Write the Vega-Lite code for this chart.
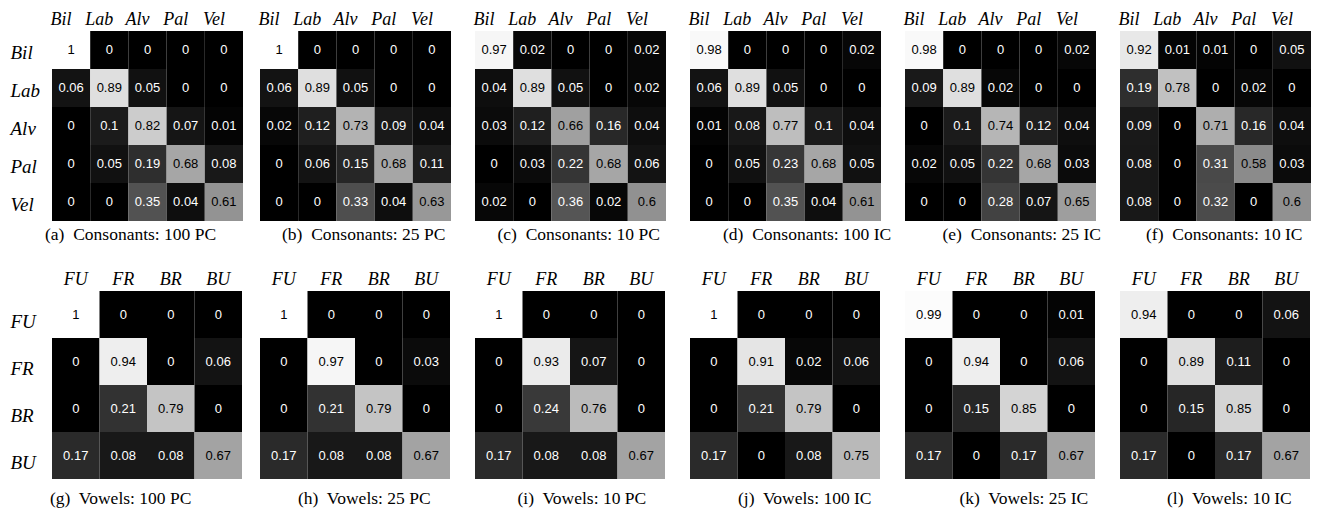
{
  "$schema": "https://vega.github.io/schema/vega-lite/v6.json",
  "background": "white",
  "padding": {"left": 10, "top": 10, "right": 0, "bottom": 0},
  "config": {
    "view": {"stroke": null},
    "axis": {"domain": false, "ticks": false, "grid": false, "labelFont": "Liberation Serif", "labelFontStyle": "italic", "labelColor": "#000000", "labelAngle": 0, "labelOverlap": false},
    "axisX": {"labelFont": "Liberation Serif", "labelFontStyle": "italic", "labelFontSize": 18, "labelPadding": 3},
    "axisY": {"labelFont": "Liberation Serif", "labelFontStyle": "italic", "labelFontSize": 19, "labelAlign": "left", "labelPadding": 42},
    "title": {"orient": "bottom", "anchor": "start", "frame": "group", "font": "Liberation Serif", "fontSize": 17.5, "fontWeight": "normal", "color": "#000000", "offset": 5}
  },
  "datasets": {
    "cons": [
      {"panel":"a","actual":"Bil","pred":"Bil","value":1},{"panel":"a","actual":"Bil","pred":"Lab","value":0},{"panel":"a","actual":"Bil","pred":"Alv","value":0},{"panel":"a","actual":"Bil","pred":"Pal","value":0},{"panel":"a","actual":"Bil","pred":"Vel","value":0},
      {"panel":"a","actual":"Lab","pred":"Bil","value":0.06},{"panel":"a","actual":"Lab","pred":"Lab","value":0.89},{"panel":"a","actual":"Lab","pred":"Alv","value":0.05},{"panel":"a","actual":"Lab","pred":"Pal","value":0},{"panel":"a","actual":"Lab","pred":"Vel","value":0},
      {"panel":"a","actual":"Alv","pred":"Bil","value":0},{"panel":"a","actual":"Alv","pred":"Lab","value":0.1},{"panel":"a","actual":"Alv","pred":"Alv","value":0.82},{"panel":"a","actual":"Alv","pred":"Pal","value":0.07},{"panel":"a","actual":"Alv","pred":"Vel","value":0.01},
      {"panel":"a","actual":"Pal","pred":"Bil","value":0},{"panel":"a","actual":"Pal","pred":"Lab","value":0.05},{"panel":"a","actual":"Pal","pred":"Alv","value":0.19},{"panel":"a","actual":"Pal","pred":"Pal","value":0.68},{"panel":"a","actual":"Pal","pred":"Vel","value":0.08},
      {"panel":"a","actual":"Vel","pred":"Bil","value":0},{"panel":"a","actual":"Vel","pred":"Lab","value":0},{"panel":"a","actual":"Vel","pred":"Alv","value":0.35},{"panel":"a","actual":"Vel","pred":"Pal","value":0.04},{"panel":"a","actual":"Vel","pred":"Vel","value":0.61},

      {"panel":"b","actual":"Bil","pred":"Bil","value":1},{"panel":"b","actual":"Bil","pred":"Lab","value":0},{"panel":"b","actual":"Bil","pred":"Alv","value":0},{"panel":"b","actual":"Bil","pred":"Pal","value":0},{"panel":"b","actual":"Bil","pred":"Vel","value":0},
      {"panel":"b","actual":"Lab","pred":"Bil","value":0.06},{"panel":"b","actual":"Lab","pred":"Lab","value":0.89},{"panel":"b","actual":"Lab","pred":"Alv","value":0.05},{"panel":"b","actual":"Lab","pred":"Pal","value":0},{"panel":"b","actual":"Lab","pred":"Vel","value":0},
      {"panel":"b","actual":"Alv","pred":"Bil","value":0.02},{"panel":"b","actual":"Alv","pred":"Lab","value":0.12},{"panel":"b","actual":"Alv","pred":"Alv","value":0.73},{"panel":"b","actual":"Alv","pred":"Pal","value":0.09},{"panel":"b","actual":"Alv","pred":"Vel","value":0.04},
      {"panel":"b","actual":"Pal","pred":"Bil","value":0},{"panel":"b","actual":"Pal","pred":"Lab","value":0.06},{"panel":"b","actual":"Pal","pred":"Alv","value":0.15},{"panel":"b","actual":"Pal","pred":"Pal","value":0.68},{"panel":"b","actual":"Pal","pred":"Vel","value":0.11},
      {"panel":"b","actual":"Vel","pred":"Bil","value":0},{"panel":"b","actual":"Vel","pred":"Lab","value":0},{"panel":"b","actual":"Vel","pred":"Alv","value":0.33},{"panel":"b","actual":"Vel","pred":"Pal","value":0.04},{"panel":"b","actual":"Vel","pred":"Vel","value":0.63},

      {"panel":"c","actual":"Bil","pred":"Bil","value":0.97},{"panel":"c","actual":"Bil","pred":"Lab","value":0.02},{"panel":"c","actual":"Bil","pred":"Alv","value":0},{"panel":"c","actual":"Bil","pred":"Pal","value":0},{"panel":"c","actual":"Bil","pred":"Vel","value":0.02},
      {"panel":"c","actual":"Lab","pred":"Bil","value":0.04},{"panel":"c","actual":"Lab","pred":"Lab","value":0.89},{"panel":"c","actual":"Lab","pred":"Alv","value":0.05},{"panel":"c","actual":"Lab","pred":"Pal","value":0},{"panel":"c","actual":"Lab","pred":"Vel","value":0.02},
      {"panel":"c","actual":"Alv","pred":"Bil","value":0.03},{"panel":"c","actual":"Alv","pred":"Lab","value":0.12},{"panel":"c","actual":"Alv","pred":"Alv","value":0.66},{"panel":"c","actual":"Alv","pred":"Pal","value":0.16},{"panel":"c","actual":"Alv","pred":"Vel","value":0.04},
      {"panel":"c","actual":"Pal","pred":"Bil","value":0},{"panel":"c","actual":"Pal","pred":"Lab","value":0.03},{"panel":"c","actual":"Pal","pred":"Alv","value":0.22},{"panel":"c","actual":"Pal","pred":"Pal","value":0.68},{"panel":"c","actual":"Pal","pred":"Vel","value":0.06},
      {"panel":"c","actual":"Vel","pred":"Bil","value":0.02},{"panel":"c","actual":"Vel","pred":"Lab","value":0},{"panel":"c","actual":"Vel","pred":"Alv","value":0.36},{"panel":"c","actual":"Vel","pred":"Pal","value":0.02},{"panel":"c","actual":"Vel","pred":"Vel","value":0.6},

      {"panel":"d","actual":"Bil","pred":"Bil","value":0.98},{"panel":"d","actual":"Bil","pred":"Lab","value":0},{"panel":"d","actual":"Bil","pred":"Alv","value":0},{"panel":"d","actual":"Bil","pred":"Pal","value":0},{"panel":"d","actual":"Bil","pred":"Vel","value":0.02},
      {"panel":"d","actual":"Lab","pred":"Bil","value":0.06},{"panel":"d","actual":"Lab","pred":"Lab","value":0.89},{"panel":"d","actual":"Lab","pred":"Alv","value":0.05},{"panel":"d","actual":"Lab","pred":"Pal","value":0},{"panel":"d","actual":"Lab","pred":"Vel","value":0},
      {"panel":"d","actual":"Alv","pred":"Bil","value":0.01},{"panel":"d","actual":"Alv","pred":"Lab","value":0.08},{"panel":"d","actual":"Alv","pred":"Alv","value":0.77},{"panel":"d","actual":"Alv","pred":"Pal","value":0.1},{"panel":"d","actual":"Alv","pred":"Vel","value":0.04},
      {"panel":"d","actual":"Pal","pred":"Bil","value":0},{"panel":"d","actual":"Pal","pred":"Lab","value":0.05},{"panel":"d","actual":"Pal","pred":"Alv","value":0.23},{"panel":"d","actual":"Pal","pred":"Pal","value":0.68},{"panel":"d","actual":"Pal","pred":"Vel","value":0.05},
      {"panel":"d","actual":"Vel","pred":"Bil","value":0},{"panel":"d","actual":"Vel","pred":"Lab","value":0},{"panel":"d","actual":"Vel","pred":"Alv","value":0.35},{"panel":"d","actual":"Vel","pred":"Pal","value":0.04},{"panel":"d","actual":"Vel","pred":"Vel","value":0.61},

      {"panel":"e","actual":"Bil","pred":"Bil","value":0.98},{"panel":"e","actual":"Bil","pred":"Lab","value":0},{"panel":"e","actual":"Bil","pred":"Alv","value":0},{"panel":"e","actual":"Bil","pred":"Pal","value":0},{"panel":"e","actual":"Bil","pred":"Vel","value":0.02},
      {"panel":"e","actual":"Lab","pred":"Bil","value":0.09},{"panel":"e","actual":"Lab","pred":"Lab","value":0.89},{"panel":"e","actual":"Lab","pred":"Alv","value":0.02},{"panel":"e","actual":"Lab","pred":"Pal","value":0},{"panel":"e","actual":"Lab","pred":"Vel","value":0},
      {"panel":"e","actual":"Alv","pred":"Bil","value":0},{"panel":"e","actual":"Alv","pred":"Lab","value":0.1},{"panel":"e","actual":"Alv","pred":"Alv","value":0.74},{"panel":"e","actual":"Alv","pred":"Pal","value":0.12},{"panel":"e","actual":"Alv","pred":"Vel","value":0.04},
      {"panel":"e","actual":"Pal","pred":"Bil","value":0.02},{"panel":"e","actual":"Pal","pred":"Lab","value":0.05},{"panel":"e","actual":"Pal","pred":"Alv","value":0.22},{"panel":"e","actual":"Pal","pred":"Pal","value":0.68},{"panel":"e","actual":"Pal","pred":"Vel","value":0.03},
      {"panel":"e","actual":"Vel","pred":"Bil","value":0},{"panel":"e","actual":"Vel","pred":"Lab","value":0},{"panel":"e","actual":"Vel","pred":"Alv","value":0.28},{"panel":"e","actual":"Vel","pred":"Pal","value":0.07},{"panel":"e","actual":"Vel","pred":"Vel","value":0.65},

      {"panel":"f","actual":"Bil","pred":"Bil","value":0.92},{"panel":"f","actual":"Bil","pred":"Lab","value":0.01},{"panel":"f","actual":"Bil","pred":"Alv","value":0.01},{"panel":"f","actual":"Bil","pred":"Pal","value":0},{"panel":"f","actual":"Bil","pred":"Vel","value":0.05},
      {"panel":"f","actual":"Lab","pred":"Bil","value":0.19},{"panel":"f","actual":"Lab","pred":"Lab","value":0.78},{"panel":"f","actual":"Lab","pred":"Alv","value":0},{"panel":"f","actual":"Lab","pred":"Pal","value":0.02},{"panel":"f","actual":"Lab","pred":"Vel","value":0},
      {"panel":"f","actual":"Alv","pred":"Bil","value":0.09},{"panel":"f","actual":"Alv","pred":"Lab","value":0},{"panel":"f","actual":"Alv","pred":"Alv","value":0.71},{"panel":"f","actual":"Alv","pred":"Pal","value":0.16},{"panel":"f","actual":"Alv","pred":"Vel","value":0.04},
      {"panel":"f","actual":"Pal","pred":"Bil","value":0.08},{"panel":"f","actual":"Pal","pred":"Lab","value":0},{"panel":"f","actual":"Pal","pred":"Alv","value":0.31},{"panel":"f","actual":"Pal","pred":"Pal","value":0.58},{"panel":"f","actual":"Pal","pred":"Vel","value":0.03},
      {"panel":"f","actual":"Vel","pred":"Bil","value":0.08},{"panel":"f","actual":"Vel","pred":"Lab","value":0},{"panel":"f","actual":"Vel","pred":"Alv","value":0.32},{"panel":"f","actual":"Vel","pred":"Pal","value":0},{"panel":"f","actual":"Vel","pred":"Vel","value":0.6}
    ],
    "vow": [
      {"panel":"g","actual":"FU","pred":"FU","value":1},{"panel":"g","actual":"FU","pred":"FR","value":0},{"panel":"g","actual":"FU","pred":"BR","value":0},{"panel":"g","actual":"FU","pred":"BU","value":0},
      {"panel":"g","actual":"FR","pred":"FU","value":0},{"panel":"g","actual":"FR","pred":"FR","value":0.94},{"panel":"g","actual":"FR","pred":"BR","value":0},{"panel":"g","actual":"FR","pred":"BU","value":0.06},
      {"panel":"g","actual":"BR","pred":"FU","value":0},{"panel":"g","actual":"BR","pred":"FR","value":0.21},{"panel":"g","actual":"BR","pred":"BR","value":0.79},{"panel":"g","actual":"BR","pred":"BU","value":0},
      {"panel":"g","actual":"BU","pred":"FU","value":0.17},{"panel":"g","actual":"BU","pred":"FR","value":0.08},{"panel":"g","actual":"BU","pred":"BR","value":0.08},{"panel":"g","actual":"BU","pred":"BU","value":0.67},

      {"panel":"h","actual":"FU","pred":"FU","value":1},{"panel":"h","actual":"FU","pred":"FR","value":0},{"panel":"h","actual":"FU","pred":"BR","value":0},{"panel":"h","actual":"FU","pred":"BU","value":0},
      {"panel":"h","actual":"FR","pred":"FU","value":0},{"panel":"h","actual":"FR","pred":"FR","value":0.97},{"panel":"h","actual":"FR","pred":"BR","value":0},{"panel":"h","actual":"FR","pred":"BU","value":0.03},
      {"panel":"h","actual":"BR","pred":"FU","value":0},{"panel":"h","actual":"BR","pred":"FR","value":0.21},{"panel":"h","actual":"BR","pred":"BR","value":0.79},{"panel":"h","actual":"BR","pred":"BU","value":0},
      {"panel":"h","actual":"BU","pred":"FU","value":0.17},{"panel":"h","actual":"BU","pred":"FR","value":0.08},{"panel":"h","actual":"BU","pred":"BR","value":0.08},{"panel":"h","actual":"BU","pred":"BU","value":0.67},

      {"panel":"i","actual":"FU","pred":"FU","value":1},{"panel":"i","actual":"FU","pred":"FR","value":0},{"panel":"i","actual":"FU","pred":"BR","value":0},{"panel":"i","actual":"FU","pred":"BU","value":0},
      {"panel":"i","actual":"FR","pred":"FU","value":0},{"panel":"i","actual":"FR","pred":"FR","value":0.93},{"panel":"i","actual":"FR","pred":"BR","value":0.07},{"panel":"i","actual":"FR","pred":"BU","value":0},
      {"panel":"i","actual":"BR","pred":"FU","value":0},{"panel":"i","actual":"BR","pred":"FR","value":0.24},{"panel":"i","actual":"BR","pred":"BR","value":0.76},{"panel":"i","actual":"BR","pred":"BU","value":0},
      {"panel":"i","actual":"BU","pred":"FU","value":0.17},{"panel":"i","actual":"BU","pred":"FR","value":0.08},{"panel":"i","actual":"BU","pred":"BR","value":0.08},{"panel":"i","actual":"BU","pred":"BU","value":0.67},

      {"panel":"j","actual":"FU","pred":"FU","value":1},{"panel":"j","actual":"FU","pred":"FR","value":0},{"panel":"j","actual":"FU","pred":"BR","value":0},{"panel":"j","actual":"FU","pred":"BU","value":0},
      {"panel":"j","actual":"FR","pred":"FU","value":0},{"panel":"j","actual":"FR","pred":"FR","value":0.91},{"panel":"j","actual":"FR","pred":"BR","value":0.02},{"panel":"j","actual":"FR","pred":"BU","value":0.06},
      {"panel":"j","actual":"BR","pred":"FU","value":0},{"panel":"j","actual":"BR","pred":"FR","value":0.21},{"panel":"j","actual":"BR","pred":"BR","value":0.79},{"panel":"j","actual":"BR","pred":"BU","value":0},
      {"panel":"j","actual":"BU","pred":"FU","value":0.17},{"panel":"j","actual":"BU","pred":"FR","value":0},{"panel":"j","actual":"BU","pred":"BR","value":0.08},{"panel":"j","actual":"BU","pred":"BU","value":0.75},

      {"panel":"k","actual":"FU","pred":"FU","value":0.99},{"panel":"k","actual":"FU","pred":"FR","value":0},{"panel":"k","actual":"FU","pred":"BR","value":0},{"panel":"k","actual":"FU","pred":"BU","value":0.01},
      {"panel":"k","actual":"FR","pred":"FU","value":0},{"panel":"k","actual":"FR","pred":"FR","value":0.94},{"panel":"k","actual":"FR","pred":"BR","value":0},{"panel":"k","actual":"FR","pred":"BU","value":0.06},
      {"panel":"k","actual":"BR","pred":"FU","value":0},{"panel":"k","actual":"BR","pred":"FR","value":0.15},{"panel":"k","actual":"BR","pred":"BR","value":0.85},{"panel":"k","actual":"BR","pred":"BU","value":0},
      {"panel":"k","actual":"BU","pred":"FU","value":0.17},{"panel":"k","actual":"BU","pred":"FR","value":0},{"panel":"k","actual":"BU","pred":"BR","value":0.17},{"panel":"k","actual":"BU","pred":"BU","value":0.67},

      {"panel":"l","actual":"FU","pred":"FU","value":0.94},{"panel":"l","actual":"FU","pred":"FR","value":0},{"panel":"l","actual":"FU","pred":"BR","value":0},{"panel":"l","actual":"FU","pred":"BU","value":0.06},
      {"panel":"l","actual":"FR","pred":"FU","value":0},{"panel":"l","actual":"FR","pred":"FR","value":0.89},{"panel":"l","actual":"FR","pred":"BR","value":0.11},{"panel":"l","actual":"FR","pred":"BU","value":0},
      {"panel":"l","actual":"BR","pred":"FU","value":0},{"panel":"l","actual":"BR","pred":"FR","value":0.15},{"panel":"l","actual":"BR","pred":"BR","value":0.85},{"panel":"l","actual":"BR","pred":"BU","value":0},
      {"panel":"l","actual":"BU","pred":"FU","value":0.17},{"panel":"l","actual":"BU","pred":"FR","value":0},{"panel":"l","actual":"BU","pred":"BR","value":0.17},{"panel":"l","actual":"BU","pred":"BU","value":0.67}
    ]
  },
  "columns": 6,
  "align": "none",
  "bounds": "flush",
  "spacing": {"row": 70, "column": 13},
  "concat": [
    {
      "width": 191, "height": 190,
      "data": {"name": "cons"},
      "transform": [{"filter": "datum.panel == 'a'"}],
      "title": {"text": "(a)\u00a0 Consonants: 100 PC", "dx": -7},
      "encoding": {
        "x": {"field": "pred", "type": "nominal", "sort": ["Bil","Lab","Alv","Pal","Vel"], "title": null, "scale": {"range": [0, 191], "paddingInner": 0, "paddingOuter": 0}, "axis": {"orient": "top", "labelOffset": -10, "labelFont": "Liberation Serif", "labelFontStyle": "italic"}},
        "y": {"field": "actual", "type": "nominal", "sort": ["Bil","Lab","Alv","Pal","Vel"], "title": null, "scale": {"paddingInner": 0, "paddingOuter": 0}, "axis": {"labelOffset": 3, "labelFont": "Liberation Serif", "labelFontStyle": "italic"}}
      },
      "layer": [
        {"mark": "rect", "encoding": {"color": {"field": "value", "type": "quantitative", "scale": {"domain": [0, 1], "range": ["#000000", "#ffffff"]}, "legend": null}}},
        {"mark": {"type": "text", "font": "Liberation Sans", "fontSize": 13}, "encoding": {"text": {"field": "value", "type": "nominal"}, "color": {"condition": {"test": "datum.value < 0.5", "value": "#ffffff"}, "value": "#000000"}}}
      ]
    },
    {
      "width": 201.5, "height": 190,
      "data": {"name": "cons"},
      "transform": [{"filter": "datum.panel == 'b'"}],
      "title": {"text": "(b)\u00a0 Consonants: 25 PC", "dx": 22},
      "encoding": {
        "x": {"field": "pred", "type": "nominal", "sort": ["Bil","Lab","Alv","Pal","Vel"], "title": null, "scale": {"range": [0, 191], "paddingInner": 0, "paddingOuter": 0}, "axis": {"orient": "top", "labelOffset": -10, "labelFont": "Liberation Serif", "labelFontStyle": "italic"}},
        "y": {"field": "actual", "type": "nominal", "sort": ["Bil","Lab","Alv","Pal","Vel"], "title": null, "scale": {"paddingInner": 0, "paddingOuter": 0}, "axis": null}
      },
      "layer": [
        {"mark": "rect", "encoding": {"color": {"field": "value", "type": "quantitative", "scale": {"domain": [0, 1], "range": ["#000000", "#ffffff"]}, "legend": null}}},
        {"mark": {"type": "text", "font": "Liberation Sans", "fontSize": 13}, "encoding": {"text": {"field": "value", "type": "nominal"}, "color": {"condition": {"test": "datum.value < 0.5", "value": "#ffffff"}, "value": "#000000"}}}
      ]
    },
    {
      "width": 201.5, "height": 190,
      "data": {"name": "cons"},
      "transform": [{"filter": "datum.panel == 'c'"}],
      "title": {"text": "(c)\u00a0 Consonants: 10 PC", "dx": 22.5},
      "encoding": {
        "x": {"field": "pred", "type": "nominal", "sort": ["Bil","Lab","Alv","Pal","Vel"], "title": null, "scale": {"range": [0, 191], "paddingInner": 0, "paddingOuter": 0}, "axis": {"orient": "top", "labelOffset": -10, "labelFont": "Liberation Serif", "labelFontStyle": "italic"}},
        "y": {"field": "actual", "type": "nominal", "sort": ["Bil","Lab","Alv","Pal","Vel"], "title": null, "scale": {"paddingInner": 0, "paddingOuter": 0}, "axis": null}
      },
      "layer": [
        {"mark": "rect", "encoding": {"color": {"field": "value", "type": "quantitative", "scale": {"domain": [0, 1], "range": ["#000000", "#ffffff"]}, "legend": null}}},
        {"mark": {"type": "text", "font": "Liberation Sans", "fontSize": 13}, "encoding": {"text": {"field": "value", "type": "nominal"}, "color": {"condition": {"test": "datum.value < 0.5", "value": "#ffffff"}, "value": "#000000"}}}
      ]
    },
    {
      "width": 201.5, "height": 190,
      "data": {"name": "cons"},
      "transform": [{"filter": "datum.panel == 'd'"}],
      "title": {"text": "(d)\u00a0 Consonants: 100 IC", "dx": 33},
      "encoding": {
        "x": {"field": "pred", "type": "nominal", "sort": ["Bil","Lab","Alv","Pal","Vel"], "title": null, "scale": {"range": [0, 191], "paddingInner": 0, "paddingOuter": 0}, "axis": {"orient": "top", "labelOffset": -10, "labelFont": "Liberation Serif", "labelFontStyle": "italic"}},
        "y": {"field": "actual", "type": "nominal", "sort": ["Bil","Lab","Alv","Pal","Vel"], "title": null, "scale": {"paddingInner": 0, "paddingOuter": 0}, "axis": null}
      },
      "layer": [
        {"mark": "rect", "encoding": {"color": {"field": "value", "type": "quantitative", "scale": {"domain": [0, 1], "range": ["#000000", "#ffffff"]}, "legend": null}}},
        {"mark": {"type": "text", "font": "Liberation Sans", "fontSize": 13}, "encoding": {"text": {"field": "value", "type": "nominal"}, "color": {"condition": {"test": "datum.value < 0.5", "value": "#ffffff"}, "value": "#000000"}}}
      ]
    },
    {
      "width": 201.5, "height": 190,
      "data": {"name": "cons"},
      "transform": [{"filter": "datum.panel == 'e'"}],
      "title": {"text": "(e)\u00a0 Consonants: 25 IC", "dx": 37.5},
      "encoding": {
        "x": {"field": "pred", "type": "nominal", "sort": ["Bil","Lab","Alv","Pal","Vel"], "title": null, "scale": {"range": [0, 191], "paddingInner": 0, "paddingOuter": 0}, "axis": {"orient": "top", "labelOffset": -10, "labelFont": "Liberation Serif", "labelFontStyle": "italic"}},
        "y": {"field": "actual", "type": "nominal", "sort": ["Bil","Lab","Alv","Pal","Vel"], "title": null, "scale": {"paddingInner": 0, "paddingOuter": 0}, "axis": null}
      },
      "layer": [
        {"mark": "rect", "encoding": {"color": {"field": "value", "type": "quantitative", "scale": {"domain": [0, 1], "range": ["#000000", "#ffffff"]}, "legend": null}}},
        {"mark": {"type": "text", "font": "Liberation Sans", "fontSize": 13}, "encoding": {"text": {"field": "value", "type": "nominal"}, "color": {"condition": {"test": "datum.value < 0.5", "value": "#ffffff"}, "value": "#000000"}}}
      ]
    },
    {
      "width": 201.5, "height": 190,
      "data": {"name": "cons"},
      "transform": [{"filter": "datum.panel == 'f'"}],
      "title": {"text": "(f)\u00a0 Consonants: 10 IC", "dx": 26},
      "encoding": {
        "x": {"field": "pred", "type": "nominal", "sort": ["Bil","Lab","Alv","Pal","Vel"], "title": null, "scale": {"range": [0, 191], "paddingInner": 0, "paddingOuter": 0}, "axis": {"orient": "top", "labelOffset": -10, "labelFont": "Liberation Serif", "labelFontStyle": "italic"}},
        "y": {"field": "actual", "type": "nominal", "sort": ["Bil","Lab","Alv","Pal","Vel"], "title": null, "scale": {"paddingInner": 0, "paddingOuter": 0}, "axis": null}
      },
      "layer": [
        {"mark": "rect", "encoding": {"color": {"field": "value", "type": "quantitative", "scale": {"domain": [0, 1], "range": ["#000000", "#ffffff"]}, "legend": null}}},
        {"mark": {"type": "text", "font": "Liberation Sans", "fontSize": 13}, "encoding": {"text": {"field": "value", "type": "nominal"}, "color": {"condition": {"test": "datum.value < 0.5", "value": "#ffffff"}, "value": "#000000"}}}
      ]
    },
    {
      "width": 195, "height": 188,
      "data": {"name": "vow"},
      "transform": [{"filter": "datum.panel == 'g'"}],
      "title": {"text": "(g)\u00a0 Vowels: 100 PC", "dx": -2, "offset": 11},
      "encoding": {
        "x": {"field": "pred", "type": "nominal", "sort": ["FU","FR","BR","BU"], "title": null, "scale": {"range": [0, 190], "paddingInner": 0, "paddingOuter": 0}, "axis": {"orient": "top", "labelFont": "Liberation Serif", "labelFontStyle": "italic", "encode": {"labels": {"update": {"dx": {"signal": "2 - 15 * datum.index"}}}}}},
        "y": {"field": "actual", "type": "nominal", "sort": ["FU","FR","BR","BU"], "title": null, "scale": {"paddingInner": 0, "paddingOuter": 0}, "axis": {"labelOffset": 7, "labelFont": "Liberation Serif", "labelFontStyle": "italic"}}
      },
      "layer": [
        {"mark": "rect", "encoding": {"color": {"field": "value", "type": "quantitative", "scale": {"domain": [0, 1], "range": ["#000000", "#ffffff"]}, "legend": null}}},
        {"mark": {"type": "text", "font": "Liberation Sans", "fontSize": 13}, "encoding": {"text": {"field": "value", "type": "nominal"}, "color": {"condition": {"test": "datum.value < 0.5", "value": "#ffffff"}, "value": "#000000"}}}
      ]
    },
    {
      "width": 201.5, "height": 188,
      "data": {"name": "vow"},
      "transform": [{"filter": "datum.panel == 'h'"}],
      "title": {"text": "(h)\u00a0 Vowels: 25 PC", "dx": 38, "offset": 11},
      "encoding": {
        "x": {"field": "pred", "type": "nominal", "sort": ["FU","FR","BR","BU"], "title": null, "scale": {"range": [0, 190], "paddingInner": 0, "paddingOuter": 0}, "axis": {"orient": "top", "labelFont": "Liberation Serif", "labelFontStyle": "italic", "encode": {"labels": {"update": {"dx": {"signal": "2 - 15 * datum.index"}}}}}},
        "y": {"field": "actual", "type": "nominal", "sort": ["FU","FR","BR","BU"], "title": null, "scale": {"paddingInner": 0, "paddingOuter": 0}, "axis": null}
      },
      "layer": [
        {"mark": "rect", "encoding": {"color": {"field": "value", "type": "quantitative", "scale": {"domain": [0, 1], "range": ["#000000", "#ffffff"]}, "legend": null}}},
        {"mark": {"type": "text", "font": "Liberation Sans", "fontSize": 13}, "encoding": {"text": {"field": "value", "type": "nominal"}, "color": {"condition": {"test": "datum.value < 0.5", "value": "#ffffff"}, "value": "#000000"}}}
      ]
    },
    {
      "width": 201.5, "height": 188,
      "data": {"name": "vow"},
      "transform": [{"filter": "datum.panel == 'i'"}],
      "title": {"text": "(i)\u00a0 Vowels: 10 PC", "dx": 42.5, "offset": 11},
      "encoding": {
        "x": {"field": "pred", "type": "nominal", "sort": ["FU","FR","BR","BU"], "title": null, "scale": {"range": [0, 190], "paddingInner": 0, "paddingOuter": 0}, "axis": {"orient": "top", "labelFont": "Liberation Serif", "labelFontStyle": "italic", "encode": {"labels": {"update": {"dx": {"signal": "2 - 15 * datum.index"}}}}}},
        "y": {"field": "actual", "type": "nominal", "sort": ["FU","FR","BR","BU"], "title": null, "scale": {"paddingInner": 0, "paddingOuter": 0}, "axis": null}
      },
      "layer": [
        {"mark": "rect", "encoding": {"color": {"field": "value", "type": "quantitative", "scale": {"domain": [0, 1], "range": ["#000000", "#ffffff"]}, "legend": null}}},
        {"mark": {"type": "text", "font": "Liberation Sans", "fontSize": 13}, "encoding": {"text": {"field": "value", "type": "nominal"}, "color": {"condition": {"test": "datum.value < 0.5", "value": "#ffffff"}, "value": "#000000"}}}
      ]
    },
    {
      "width": 201.5, "height": 188,
      "data": {"name": "vow"},
      "transform": [{"filter": "datum.panel == 'j'"}],
      "title": {"text": "(j)\u00a0 Vowels: 100 IC", "dx": 48, "offset": 11},
      "encoding": {
        "x": {"field": "pred", "type": "nominal", "sort": ["FU","FR","BR","BU"], "title": null, "scale": {"range": [0, 190], "paddingInner": 0, "paddingOuter": 0}, "axis": {"orient": "top", "labelFont": "Liberation Serif", "labelFontStyle": "italic", "encode": {"labels": {"update": {"dx": {"signal": "2 - 15 * datum.index"}}}}}},
        "y": {"field": "actual", "type": "nominal", "sort": ["FU","FR","BR","BU"], "title": null, "scale": {"paddingInner": 0, "paddingOuter": 0}, "axis": null}
      },
      "layer": [
        {"mark": "rect", "encoding": {"color": {"field": "value", "type": "quantitative", "scale": {"domain": [0, 1], "range": ["#000000", "#ffffff"]}, "legend": null}}},
        {"mark": {"type": "text", "font": "Liberation Sans", "fontSize": 13}, "encoding": {"text": {"field": "value", "type": "nominal"}, "color": {"condition": {"test": "datum.value < 0.5", "value": "#ffffff"}, "value": "#000000"}}}
      ]
    },
    {
      "width": 201.5, "height": 188,
      "data": {"name": "vow"},
      "transform": [{"filter": "datum.panel == 'k'"}],
      "title": {"text": "(k)\u00a0 Vowels: 25 IC", "dx": 54.5, "offset": 11},
      "encoding": {
        "x": {"field": "pred", "type": "nominal", "sort": ["FU","FR","BR","BU"], "title": null, "scale": {"range": [0, 190], "paddingInner": 0, "paddingOuter": 0}, "axis": {"orient": "top", "labelFont": "Liberation Serif", "labelFontStyle": "italic", "encode": {"labels": {"update": {"dx": {"signal": "2 - 15 * datum.index"}}}}}},
        "y": {"field": "actual", "type": "nominal", "sort": ["FU","FR","BR","BU"], "title": null, "scale": {"paddingInner": 0, "paddingOuter": 0}, "axis": null}
      },
      "layer": [
        {"mark": "rect", "encoding": {"color": {"field": "value", "type": "quantitative", "scale": {"domain": [0, 1], "range": ["#000000", "#ffffff"]}, "legend": null}}},
        {"mark": {"type": "text", "font": "Liberation Sans", "fontSize": 13}, "encoding": {"text": {"field": "value", "type": "nominal"}, "color": {"condition": {"test": "datum.value < 0.5", "value": "#ffffff"}, "value": "#000000"}}}
      ]
    },
    {
      "width": 201.5, "height": 188,
      "data": {"name": "vow"},
      "transform": [{"filter": "datum.panel == 'l'"}],
      "title": {"text": "(l)\u00a0 Vowels: 10 IC", "dx": 47, "offset": 11},
      "encoding": {
        "x": {"field": "pred", "type": "nominal", "sort": ["FU","FR","BR","BU"], "title": null, "scale": {"range": [0, 190], "paddingInner": 0, "paddingOuter": 0}, "axis": {"orient": "top", "labelFont": "Liberation Serif", "labelFontStyle": "italic", "encode": {"labels": {"update": {"dx": {"signal": "2 - 15 * datum.index"}}}}}},
        "y": {"field": "actual", "type": "nominal", "sort": ["FU","FR","BR","BU"], "title": null, "scale": {"paddingInner": 0, "paddingOuter": 0}, "axis": null}
      },
      "layer": [
        {"mark": "rect", "encoding": {"color": {"field": "value", "type": "quantitative", "scale": {"domain": [0, 1], "range": ["#000000", "#ffffff"]}, "legend": null}}},
        {"mark": {"type": "text", "font": "Liberation Sans", "fontSize": 13}, "encoding": {"text": {"field": "value", "type": "nominal"}, "color": {"condition": {"test": "datum.value < 0.5", "value": "#ffffff"}, "value": "#000000"}}}
      ]
    }
  ]
}
